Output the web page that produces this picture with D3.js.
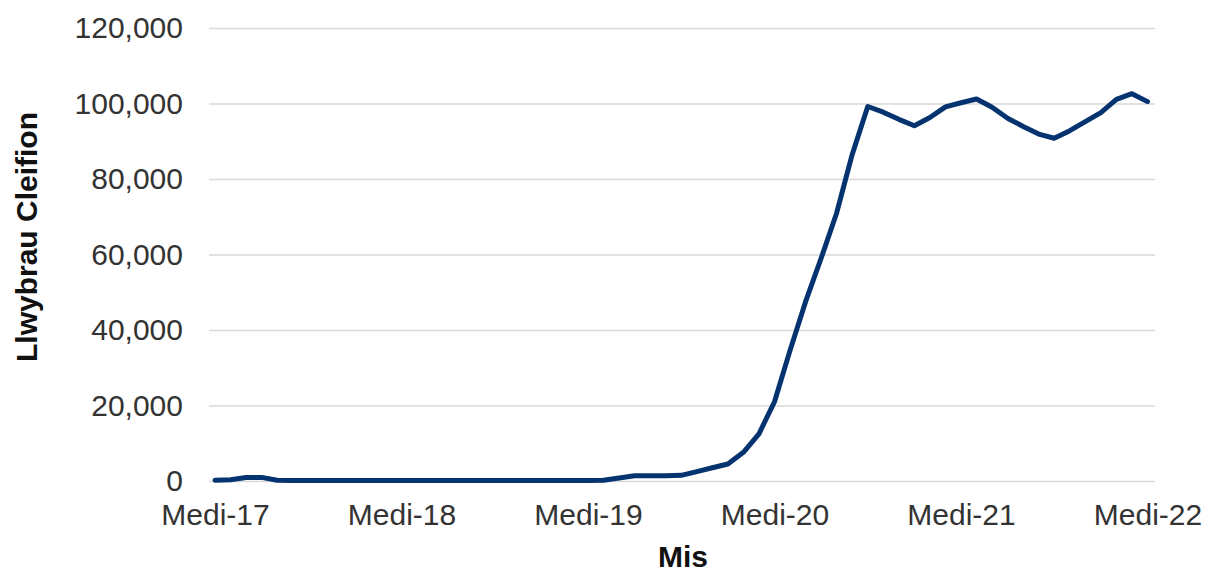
<!DOCTYPE html>
<html>
<head>
<meta charset="utf-8">
<script src="https://cdn.jsdelivr.net/npm/d3@7"></script>
<style>
  body { margin: 0; background: #fff; }
  text { font-family: "Liberation Sans", Arial, sans-serif; }
</style>
</head>
<body>
<div id="chart"></div>
<script>
// months Sep 2017 .. Sep 2022
const months = [
  "Medi-17","Hyd-17","Tach-17","Rhag-17","Ion-18","Chwef-18","Maw-18","Ebr-18","Mai-18","Meh-18","Gorff-18","Awst-18",
  "Medi-18","Hyd-18","Tach-18","Rhag-18","Ion-19","Chwef-19","Maw-19","Ebr-19","Mai-19","Meh-19","Gorff-19","Awst-19",
  "Medi-19","Hyd-19","Tach-19","Rhag-19","Ion-20","Chwef-20","Maw-20","Ebr-20","Mai-20","Meh-20","Gorff-20","Awst-20",
  "Medi-20","Hyd-20","Tach-20","Rhag-20","Ion-21","Chwef-21","Maw-21","Ebr-21","Mai-21","Meh-21","Gorff-21","Awst-21",
  "Medi-21","Hyd-21","Tach-21","Rhag-21","Ion-22","Chwef-22","Maw-22","Ebr-22","Mai-22","Meh-22","Gorff-22","Awst-22",
  "Medi-22"
];

const pathways = [
  200, 350, 950, 950, 200, 150, 150, 150, 150, 150, 150, 150,
  150, 150, 150, 150, 150, 150, 150, 150, 150, 150, 150, 150,
  150, 200, 800, 1400, 1400, 1400, 1500, 2500, 3500, 4500, 7600, 12500,
  21000, 34600, 47500, 59000, 71000, 86500, 99200, 97700, 95800, 94100, 96300, 99100,
  100200, 101200, 99000, 96100, 93900, 91900, 90800, 92800, 95200, 97600, 101100, 102600,
  100500
];

const yTicks = [0, 20000, 40000, 60000, 80000, 100000, 120000];
const xTickLabels = ["Medi-17", "Medi-18", "Medi-19", "Medi-20", "Medi-21", "Medi-22"];

const yTitle = "Llwybrau Cleifion";
const xTitle = "Mis";

const width = 1212;
const height = 574;

const svg = d3.select("#chart")
  .append("svg")
  .attr("width", width)
  .attr("height", height)
  .attr("viewBox", [0, 0, width, height]);

const plotLeft = 209, plotRight = 1155;

const x = d3.scalePoint()
  .domain(months)
  .range([215, 1147.5]);

const y = d3.scaleLinear()
  .domain([0, 120000])
  .range([481, 28]);

// y axis + gridlines
const yAxis = svg.append("g")
  .attr("transform", `translate(${plotLeft},0)`)
  .call(d3.axisLeft(y)
    .tickValues(yTicks)
    .tickSize(-(plotRight - plotLeft))
    .tickPadding(26)
    .tickFormat(d3.format(",")));
yAxis.select(".domain").remove();
yAxis.selectAll(".tick line")
  .attr("stroke", "#d9d9d9")
  .attr("stroke-width", 1.5);
yAxis.selectAll(".tick text")
  .attr("font-size", "30px")
  .attr("fill", "#333");

// x axis labels
const xAxis = svg.append("g")
  .attr("transform", `translate(0,${y(0)})`)
  .call(d3.axisBottom(x)
    .tickValues(xTickLabels)
    .tickSize(0)
    .tickPadding(23));
xAxis.select(".domain").remove();
xAxis.selectAll(".tick text")
  .attr("font-size", "30px")
  .attr("fill", "#333");

// line
const line = d3.line()
  .x((d, i) => x(months[i]))
  .y(d => y(d));

svg.append("path")
  .datum(pathways)
  .attr("fill", "none")
  .attr("stroke", "#04336f")
  .attr("stroke-width", 5)
  .attr("stroke-linejoin", "round")
  .attr("stroke-linecap", "round")
  .attr("d", line);

// axis titles
svg.append("text")
  .attr("transform", `translate(37,237) rotate(-90)`)
  .attr("text-anchor", "middle")
  .attr("font-size", "30px")
  .attr("font-weight", "bold")
  .attr("fill", "#111")
  .text(yTitle);

svg.append("text")
  .attr("x", 683)
  .attr("y", 567)
  .attr("text-anchor", "middle")
  .attr("font-size", "30px")
  .attr("font-weight", "bold")
  .attr("fill", "#111")
  .text(xTitle);
</script>
</body>
</html>
